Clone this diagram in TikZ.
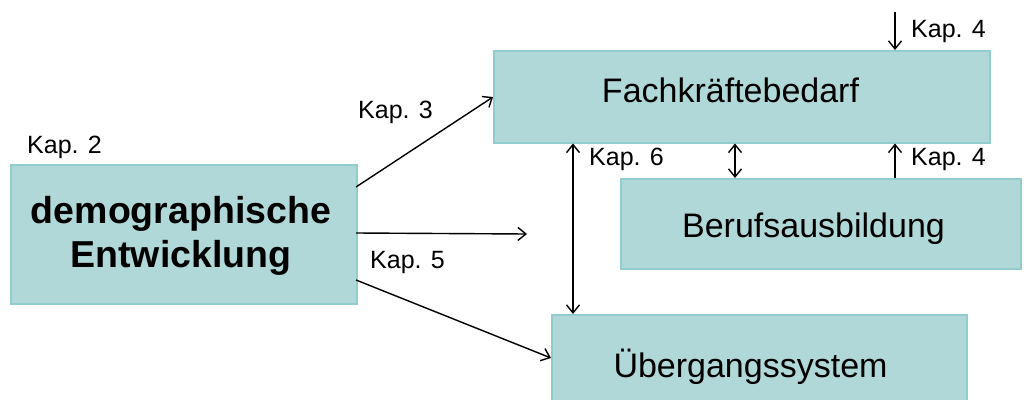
\documentclass[tikz,border=0pt]{standalone}
\usepackage{fontspec}
\setmainfont{Liberation Sans}
\usetikzlibrary{arrows.meta}
\definecolor{boxfill}{RGB}{177,216,216}
\definecolor{boxline}{RGB}{146,204,204}
\tikzset{
  box/.style={draw=boxline, fill=boxfill, line width=1.5pt, inner sep=0pt, anchor=north west},
  boxtext/.style={font=\fontsize{34}{40}\selectfont, inner sep=0pt, anchor=base},
  kap/.style={font=\fontsize{25}{28}\selectfont, inner sep=0pt, anchor=base west},
  conn/.style={line width=1.4pt, -{Straight Barb[length=8pt,width=13pt,line width=1.4pt]}},
  dconn/.style={line width=1.4pt, {Straight Barb[length=8pt,width=13pt,line width=1.4pt]}-{Straight Barb[length=8pt,width=13pt,line width=1.4pt]}}
}
\begin{document}
\begin{tikzpicture}[x=1pt,y=-1pt]
\useasboundingbox (0,0) rectangle (1024,399);
\clip (0,0) rectangle (1024,399);
% boxes
\node[box, minimum width=496pt, minimum height=92pt] (fk) at (493,50) {};
\node[box, minimum width=400pt, minimum height=90pt] (ba) at (620,178) {};
\node[box, minimum width=415pt, minimum height=110pt] (us) at (551,314) {};
\node[box, minimum width=346pt, minimum height=139pt] (de) at (10,164) {};
% texts
\node[boxtext] (fkt) at (730.5,102) {Fachkräftebedarf};
\node[boxtext] (bat) at (813.5,237) {Berufsausbildung};
\node[boxtext] (ust) at (750.5,377) {Übergangssystem};
\node[inner sep=0pt, font=\fontsize{37.5}{44}\selectfont\bfseries, align=center] (det) at (181,235.5) {demographische\\Entwicklung};
% labels
\node[kap] (k2) at (27,153) {Kap. 2};
\node[kap] (k3) at (358,118) {Kap. 3};
\node[kap] (k5) at (370,268) {Kap. 5};
\node[kap] (k6) at (589,165) {Kap. 6};
\node[kap] (k4a) at (911,37) {Kap. 4};
\node[kap] (k4b) at (911,165) {Kap. 4};
% coordinates
\coordinate (a1s) at (356,187);
\coordinate (a1e) at (493,97);
\coordinate (a2s) at (356,233);
\coordinate (a2e) at (527,234);
\coordinate (a3s) at (356,280);
\coordinate (a3e) at (551,358);
\coordinate (k4top) at (895,12);
% connectors
\draw[conn] (a1s) -- (a1e);
\draw[conn] (a2s) -- (a2e);
\draw[conn] (a3s) -- (a3e);
\draw[dconn] (fk.south west -| 573,0) -- (us.north west -| 573,0);
\draw[dconn] (fk.south west -| 735,0) -- (ba.north west -| 735,0);
\draw[conn] (k4top) -- (fk.north west -| 895,0);
\draw[conn] (ba.north west -| 895,0) -- (fk.south west -| 895,0);
\end{tikzpicture}
\end{document}
